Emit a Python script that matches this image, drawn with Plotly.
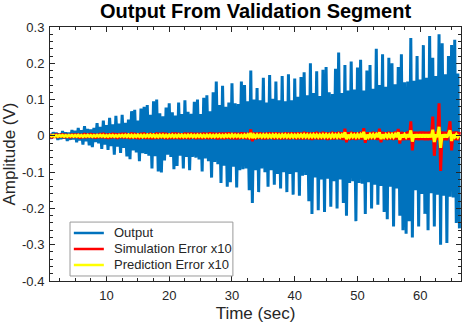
import numpy as np
import plotly.graph_objects as go

# all series sampled every 0.25 s starting at 1 s
T_START = 1.0
STEP = 0.25

output = [
    0.006, -0.008, 0.010, -0.005, 0.009, -0.011, 0.007, -0.009, 0.013, -0.008, 0.010, -0.014, 0.009, -0.011, 0.016, -0.010,
    0.014, -0.018, 0.022, -0.013, 0.016, -0.024, 0.027, -0.015, 0.019, -0.026, 0.018, -0.031, 0.022, -0.017, 0.035, -0.021,
    0.025, -0.036, 0.042, -0.024, 0.030, -0.039, 0.050, -0.028, 0.032, -0.052, 0.055, -0.030, 0.034, -0.047, 0.058, -0.033,
    0.036, -0.057, 0.045, -0.064, 0.068, -0.040, 0.072, -0.046, 0.042, -0.070, 0.075, -0.048, 0.080, -0.050, 0.085, -0.055,
    0.058, -0.090, 0.095, -0.056, 0.100, -0.098, 0.062, -0.101, 0.054, -0.068, 0.078, -0.052, 0.090, -0.058, 0.065, -0.092,
    0.056, -0.083, 0.092, -0.055, 0.060, -0.090, 0.098, -0.058, 0.066, -0.095, 0.061, -0.058, 0.094, -0.060, 0.100, -0.065,
    0.060, -0.098, 0.105, -0.062, 0.112, -0.070, 0.068, -0.115, 0.120, -0.072, 0.150, -0.078, 0.085, -0.130, 0.138, -0.082,
    0.080, -0.140, 0.092, -0.128, 0.145, -0.085, 0.090, -0.142, 0.088, -0.095, 0.150, -0.092, 0.140, -0.090, 0.095, -0.150,
    0.180, -0.185, 0.100, -0.095, 0.132, -0.155, 0.098, -0.090, 0.160, -0.100, 0.092, -0.140, 0.168, -0.095, 0.102, -0.135,
    0.150, -0.105, 0.098, -0.145, 0.165, -0.100, 0.095, -0.155, 0.170, -0.105, 0.098, -0.162, 0.158, -0.100, 0.108, -0.165,
    0.162, -0.110, 0.175, -0.108, 0.112, -0.180, 0.200, -0.215, 0.118, -0.115, 0.178, -0.205, 0.110, -0.120, 0.182, -0.210,
    0.190, -0.118, 0.120, -0.195, 0.115, -0.125, 0.185, -0.200, 0.230, -0.120, 0.118, -0.185, 0.195, -0.220, 0.125, -0.130,
    0.205, -0.125, 0.128, -0.235, 0.188, -0.130, 0.210, -0.132, 0.125, -0.215, 0.180, -0.128, 0.195, -0.200, 0.130, -0.135,
    0.240, -0.190, 0.140, -0.138, 0.225, -0.210, 0.135, -0.230, 0.215, -0.140, 0.200, -0.250, 0.142, -0.145, 0.190, -0.220,
    0.225, -0.260, 0.148, -0.270, 0.150, -0.235, 0.270, -0.280, 0.152, -0.150, 0.220, -0.250, 0.155, -0.160, 0.250, -0.215,
    0.160, -0.260, 0.275, -0.158, 0.215, -0.250, 0.165, -0.162, 0.280, -0.300, 0.255, -0.165, 0.170, -0.295, 0.220, -0.168,
    0.250, -0.170, 0.265, -0.240, 0.172, -0.255,
]

# simulation error x10
sim_error = [
    0.005, -0.006, 0.004, -0.005, 0.006, -0.005, 0.005, -0.004, 0.006, -0.006, 0.005, -0.005, 0.004, -0.006, 0.006, -0.005,
    0.006, -0.005, 0.006, -0.007, 0.005, -0.006, 0.007, -0.006, 0.006, -0.005, 0.007, -0.006, 0.006, -0.007, 0.005, -0.006,
    0.007, -0.006, 0.008, -0.007, 0.006, -0.008, 0.007, -0.007, 0.008, -0.006, 0.007, -0.008, 0.007, -0.006, 0.008, -0.007,
    0.008, -0.007, 0.007, -0.008, 0.009, -0.007, 0.008, -0.008, 0.007, -0.009, 0.008, -0.007, 0.009, -0.008, 0.007, -0.008,
    0.008, -0.009, 0.007, -0.008, 0.009, -0.008, 0.008, -0.007, 0.009, -0.008, 0.008, -0.009, 0.007, -0.008, 0.009, -0.008,
    0.009, -0.008, 0.008, -0.009, 0.007, -0.008, 0.009, -0.008, 0.008, -0.009, 0.009, -0.007, 0.008, -0.009, 0.008, -0.008,
    0.008, -0.009, 0.009, -0.008, 0.008, -0.009, 0.010, -0.008, 0.009, -0.008, 0.008, -0.010, 0.009, -0.008, 0.009, -0.009,
    0.009, -0.008, 0.010, -0.009, 0.008, -0.009, 0.009, -0.010, 0.008, -0.009, 0.010, -0.008, 0.009, -0.009, 0.008, -0.010,
    0.018, -0.015, 0.009, -0.010, 0.009, -0.008, 0.010, -0.009, 0.008, -0.010, 0.009, -0.009, 0.010, -0.008, 0.009, -0.010,
    0.010, -0.009, 0.009, -0.010, 0.008, -0.009, 0.010, -0.009, 0.009, -0.010, 0.010, -0.008, 0.009, -0.010, 0.010, -0.009,
    0.009, -0.010, 0.011, -0.009, 0.010, -0.010, 0.009, -0.011, 0.010, -0.009, 0.011, -0.010, 0.009, -0.010, 0.011, -0.009,
    0.010, -0.011, 0.009, -0.010, 0.011, -0.010, 0.010, -0.009, 0.011, -0.010, 0.010, -0.011, 0.020, -0.018, 0.010, -0.011,
    0.011, -0.010, 0.010, -0.011, 0.009, -0.010, 0.011, -0.010, 0.021, -0.019, 0.010, -0.011, 0.010, -0.010, 0.011, -0.010,
    0.010, -0.011, 0.020, -0.018, 0.011, -0.010, 0.010, -0.011, 0.011, -0.010, 0.010, -0.011, 0.012, -0.010, 0.019, -0.021,
    0.011, -0.012, 0.010, -0.011, 0.012, -0.011, 0.040, -0.040, 0.012, -0.011, 0.011, -0.012, 0.012, -0.011, 0.012, -0.012,
    0.011, -0.012, 0.012, -0.011, 0.053, -0.055, 0.012, -0.011, 0.090, -0.097, 0.012, -0.012, 0.011, -0.012, 0.012, 0.040,
    -0.040, 0.012, -0.011, 0.012, -0.012, 0.011,
]

# prediction error x10
pred_error = [
    0.0015, -0.001, 0.0015, -0.0015, 0.001, -0.0015, 0.0015, -0.001, 0.0015, -0.0015, 0.001, -0.0015, 0.0015, -0.001, 0.0015, -0.0015,
    0.0015, -0.0015, 0.002, -0.0015, 0.0015, -0.002, 0.0015, -0.0015, 0.002, -0.0015, 0.0015, -0.002, 0.0015, -0.0015, 0.002, -0.0015,
    0.002, -0.0015, 0.002, -0.002, 0.0015, -0.002, 0.002, -0.0015, 0.002, -0.002, 0.0015, -0.002, 0.002, -0.0015, 0.002, -0.002,
    0.002, -0.002, 0.0025, -0.002, 0.002, -0.0025, 0.002, -0.002, 0.0025, -0.002, 0.002, -0.0025, 0.002, -0.002, 0.0025, -0.002,
    0.0025, -0.002, 0.0025, -0.0025, 0.002, -0.0025, 0.0025, -0.002, 0.0025, -0.0025, 0.002, -0.0025, 0.0025, -0.002, 0.0025, -0.0025,
    0.002, -0.0025, 0.0025, -0.002, 0.0025, -0.0025, 0.002, -0.0025, 0.0025, -0.002, 0.0025, -0.0025, 0.002, -0.0025, 0.0025, -0.002,
    0.0025, -0.0025, 0.002, -0.0025, 0.0025, -0.002, 0.0025, -0.0025, 0.002, -0.0025, 0.0025, -0.002, 0.0025, -0.0025, 0.002, -0.0025,
    0.0025, -0.002, 0.0025, -0.0025, 0.003, -0.0025, 0.0025, -0.002, 0.0025, -0.0025, 0.002, -0.003, 0.0025, -0.0025, 0.003, -0.0025,
    0.008, -0.006, 0.0025, -0.003, 0.003, -0.0025, 0.0025, -0.003, 0.003, -0.0025, 0.003, -0.003, 0.0025, -0.003, 0.003, -0.0025,
    0.003, -0.003, 0.0025, -0.003, 0.003, -0.0025, 0.003, -0.003, 0.0025, -0.003, 0.003, -0.003, 0.0025, -0.003, 0.003, -0.0025,
    0.003, -0.003, 0.0035, -0.003, 0.003, -0.0035, 0.003, -0.003, 0.0035, -0.003, 0.003, -0.0035, 0.003, -0.003, 0.0035, -0.003,
    0.0035, -0.003, 0.003, -0.0035, 0.0035, -0.003, 0.003, -0.0035, 0.0035, -0.003, 0.003, -0.0035, 0.010, -0.009, 0.003, -0.0035,
    0.0035, -0.003, 0.003, -0.0035, 0.0035, -0.003, 0.0035, -0.0035, 0.011, -0.010, 0.003, -0.0035, 0.0035, -0.003, 0.0035, -0.0035,
    0.0035, -0.003, 0.010, -0.009, 0.0035, -0.0035, 0.003, -0.0035, 0.0035, -0.003, 0.0035, -0.0035, 0.004, -0.003, 0.010, -0.011,
    0.0035, -0.004, 0.0035, -0.0035, 0.004, -0.0035, 0.015, -0.016, 0.0035, -0.004, 0.004, -0.0035, 0.004, -0.0035, 0.004, -0.004,
    0.0035, -0.004, 0.004, -0.0035, 0.017, -0.017, 0.004, -0.0035, 0.025, -0.033, 0.004, -0.004, 0.0035, -0.004, 0.004, 0.015,
    -0.014, 0.0035, -0.003, 0.0035, -0.0035, 0.003,
]

x_ticks = [10, 20, 30, 40, 50, 60]
y_ticks = [0.3, 0.2, 0.1, 0, -0.1, -0.2, -0.3, -0.4]
y_labels = ["0.3", "0.2", "0.1", "0", "-0.1", "-0.2", "-0.3", "-0.4"]
legend_names = ["Output", "Simulation Error x10", "Prediction Error x10"]

t = T_START + STEP * np.arange(len(output))

BLUE = "#0072BD"
RED = "#FF0000"
YELLOW = "#FFFF00"
FONT = "Liberation Sans, Arial, sans-serif"
INK = "#262626"

fig = go.Figure()
fig.add_trace(go.Scatter(x=t, y=output, mode="lines", line=dict(color=BLUE, width=3)))
fig.add_trace(go.Scatter(x=t, y=sim_error, mode="lines", line=dict(color=RED, width=3)))
fig.add_trace(go.Scatter(x=t, y=pred_error, mode="lines", line=dict(color=YELLOW, width=3)))

axis_common = dict(
    showline=True, linecolor=INK, linewidth=1, mirror="allticks",
    ticks="inside", ticklen=5, tickcolor=INK, tickwidth=1,
    showgrid=False, zeroline=False, automargin=False, ticklabelstandoff=2,
    tickfont=dict(family=FONT, size=13, color=INK),
)

fig.update_xaxes(
    range=[1, 66.5], tickvals=x_ticks,
    minor=dict(dtick=2.5, ticks="inside", ticklen=3, tickcolor=INK, showgrid=False),
    title=dict(text="Time (sec)", font=dict(family=FONT, size=17, color=INK), standoff=5),
    **axis_common,
)
fig.update_yaxes(
    range=[-0.4, 0.3], tickvals=y_ticks, ticktext=y_labels,
    minor=dict(dtick=0.02, ticks="inside", ticklen=3, tickcolor=INK, showgrid=False),
    title=dict(text="Amplitude (V)", font=dict(family=FONT, size=17, color=INK), standoff=2),
    **axis_common,
)

# legend box drawn by hand (MATLAB-style compact rows)
leg_rows = [0.189, 0.126, 0.063]
shapes = [dict(type="rect", xref="paper", yref="paper", x0=0.0487, x1=0.445, y0=0.0197, y1=0.232,
               line=dict(color="#9a9a9a", width=1), fillcolor="white", layer="above")]
annotations = []
for name, col, yy in zip(legend_names, [BLUE, RED, YELLOW], leg_rows):
    shapes.append(dict(type="line", xref="paper", yref="paper", x0=0.058, x1=0.131, y0=yy, y1=yy,
                       line=dict(color=col, width=2.5), layer="above"))
    annotations.append(dict(text=name, xref="paper", yref="paper", x=0.151, y=yy,
                            xanchor="left", yanchor="middle", showarrow=False,
                            font=dict(family=FONT, size=13, color=INK)))

fig.update_layout(
    width=463, height=324,
    margin=dict(l=50, r=2, t=27, b=43),
    paper_bgcolor="white", plot_bgcolor="white",
    title=dict(text="<b>Output From Validation Segment</b>", x=0.552, xanchor="center",
               y=0.966, yanchor="middle", font=dict(family=FONT, size=20, color="black")),
    shapes=shapes, annotations=annotations,
    showlegend=False,
)

fig.write_html("out.html", config={"displayModeBar": False},
               post_script="document.body.style.margin='0';")
